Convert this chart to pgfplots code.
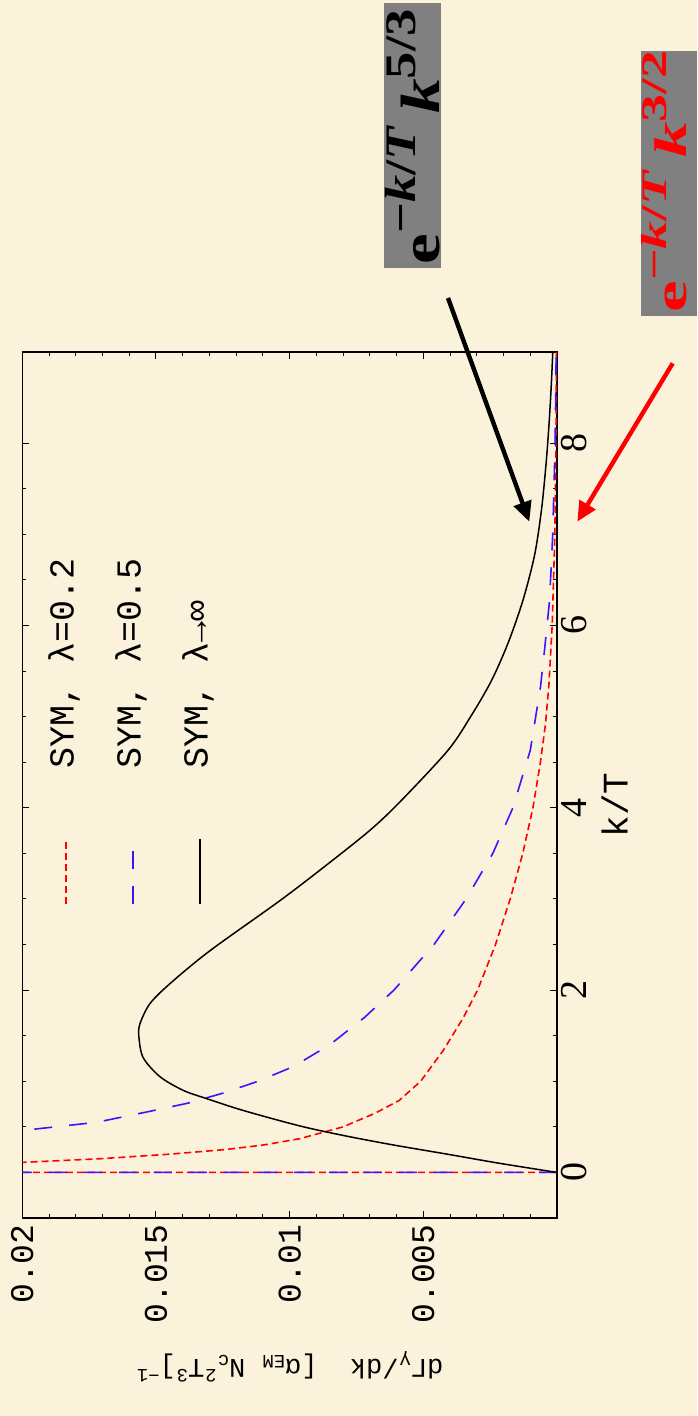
\documentclass[border=0pt]{standalone}
\usepackage{pgfplots}
\pgfplotsset{compat=1.18}
\usepackage{graphicx}
\usepackage{fontspec}
\setmainfont{Liberation Serif}
\setmonofont{Liberation Mono}
\usetikzlibrary{arrows.meta}
\definecolor{bgc}{RGB}{251,242,220}
\definecolor{myblue}{RGB}{60,20,255}
\definecolor{labgray}{RGB}{128,128,128}
\newcommand{\sz}[1]{\fontsize{#1}{#1}\selectfont}
\newcommand{\explabel}[1]{\sz{28}\textbf{e\raisebox{12pt}{\sz{22}\textbf{−\textit{k}/\textit{T}}}\,\textit{k}\raisebox{12pt}{\sz{22}\textbf{#1}}}}

\begin{document}
\rotatebox{90}{%
\begin{tikzpicture}
\fill[bgc] (0pt,0pt) rectangle (708pt,348.5pt);
\useasboundingbox (0pt,0pt) rectangle (708pt,348.5pt);
\begin{axis}[
  at={(99pt,70pt)}, anchor=south west,
  width=433pt, height=267.35pt, scale only axis,
  xmin=-0.5, xmax=9, ymin=0, ymax=0.02,
  scaled y ticks=false, scaled x ticks=false,
  axis line style={black, line width=0.6pt},
  tick style={black, line width=0.5pt},
  tick align=inside,
  major tick length=3.5pt, minor tick length=2pt,
  xtick={0,2,4,6,8}, xticklabels={0,2,4,6,8},
  minor x tick num=3,
  ytick={0,0.005,0.01,0.015,0.02},
  yticklabels={,0.005,0.01,0.015,0.02},
  minor y tick num=4,
  /pgf/number format/assume math mode=true,
  xticklabel style={font=\rmfamily\sz{19}, inner sep=2pt},
  yticklabel style={font=\ttfamily\sz{16.5}, inner sep=3pt},
  xlabel={k/T},
  xlabel style={font=\ttfamily\sz{18}, at={(axis description cs:0.477,-0.108)}, anchor=center},
  ylabel={dΓ\textsubscript{γ}/dk\ \ [α\textsubscript{EM}\ N\textsubscript{c}\textsuperscript{2}T\textsuperscript{3}]\textsuperscript{−1}},
  ylabel style={font=\ttfamily\sz{13.5}, at={(axis description cs:-0.172,0.5)}, anchor=center},
  legend style={draw=none, fill=none, at={(axis description cs:0.3614,0.948)}, anchor=north west,
    font=\ttfamily\sz{17.5}, row sep=18pt, inner sep=0pt,
    nodes={inner sep=0pt, text height=11.5pt, text depth=4pt},
    /tikz/every odd column/.append style={column sep=34.7pt}},
  legend cell align=left,
  legend image code/.code={\draw[#1] (0pt,0pt) -- (32.5pt,0pt);},
]
\addplot[red, line width=0.8pt, dash pattern=on 3.5pt off 2pt] coordinates {
(0,0) (0,0.03) (0.08,0.027) (0.11,0.02) (0.15,0.0171) (0.2,0.0145) (0.25,0.01243)
(0.3,0.0110) (0.37,0.00962) (0.5,0.0080) (0.65,0.0068) (0.79,0.0059) (1.0,0.0051)
(1.34,0.00425) (1.7,0.0035) (2.0,0.00297) (2.5,0.0023) (3.0,0.00175) (3.5,0.00128)
(4.0,0.00090) (4.5,0.00062) (4.92,0.00043) (5.36,0.00030) (6.0,0.00018) (7.0,0.00008)
(8.0,0.00004) (9.0,0.00002)};
\addlegendentry{SYM, λ=0.2}
\addplot[myblue, line width=0.8pt, dash pattern=on 9pt off 8.5pt] coordinates {
(0,0) (0,0.03) (0.4,0.0225) (0.46,0.02) (0.55,0.01722) (0.67,0.01523) (0.76,0.0138)
(0.87,0.01249) (1.0,0.01118) (1.16,0.00987) (1.4,0.0085) (1.7,0.0072) (2.0,0.0061)
(2.5,0.0046) (3.0,0.0034) (3.5,0.0024) (4.0,0.00165) (4.63,0.0010) (5.32,0.00062)
(5.72,0.00047) (6.24,0.00029) (6.62,0.00022) (7.0,0.00016) (8.0,0.00007) (9.0,0.00003)};
\addlegendentry{SYM, λ=0.5}
\addplot[black, line width=0.75pt, smooth] coordinates {
(0,0) (0.1,0.00215) (0.2,0.0041) (0.3,0.0061) (0.4,0.0079) (0.51,0.00962) (0.68,0.01174)
(0.81,0.01311) (0.90,0.01398) (1.05,0.01485) (1.26,0.01548) (1.49,0.01564) (1.63,0.01560)
(1.85,0.01523) (2.07,0.01448) (2.43,0.01299) (2.98,0.01037) (3.37,0.00863) (3.75,0.00701)
(4.06,0.00589) (4.63,0.00408) (5.01,0.00321) (5.39,0.00246) (5.80,0.00184) (6.27,0.00128)
(6.77,0.00084) (7.27,0.00058) (7.77,0.00041) (8.2,0.0003) (8.6,0.00022) (9.0,0.000157)};
\addlegendentry{SYM, λ→∞}
\end{axis}
% annotation labels
\fill[labgray] (574.15pt,128pt) rectangle (706.35pt,156.5pt);
\node[anchor=base west, inner sep=0pt] at (575.5pt,129pt) {\resizebox{127.5pt}{27pt}{\explabel{5/3}}};
\fill[labgray] (550.15pt,0pt) rectangle (682.5pt,28pt);
\node[anchor=base west, inner sep=0pt] at (551.5pt,5.5pt) {\color{red}\resizebox{131pt}{22.3pt}{\explabel{3/2}}};
% arrows
\draw[black, line width=2.2pt, -{Triangle[length=10pt,width=9pt]}] (559pt,124.5pt) -- (447.15pt,83.85pt);
\draw[red, line width=2.2pt, -{Triangle[length=10pt,width=9pt]}] (526.35pt,12.15pt) -- (447.15pt,59.85pt);
\end{tikzpicture}}
\end{document}
